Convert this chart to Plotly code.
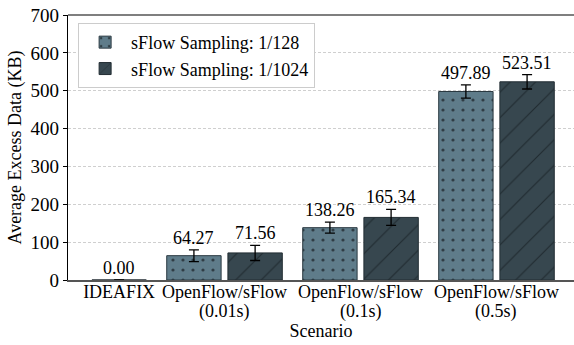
import plotly.graph_objects as go

# ---- data ----
scenarios = ["IDEAFIX", "OpenFlow/sFlow<br>(0.01s)", "OpenFlow/sFlow<br>(0.1s)", "OpenFlow/sFlow<br>(0.5s)"]
series_names = ["sFlow Sampling: 1/128", "sFlow Sampling: 1/1024"]
vals_128 = [None, 64.27, 138.26, 497.89]
err_128 = [None, 15.5, 14.5, 17.5]
vals_1024 = [0.00, 71.56, 165.34, 523.51]
err_1024 = [0.0, 20.0, 21.0, 19.0]
y_ticks = [0, 100, 200, 300, 400, 500, 600, 700]

# ---- layout helpers ----
BAR_W = 0.4
OFF = 0.225
FONT = "Times New Roman"
FS = 18
C128 = "#5F7C8A"
C1024 = "#37474F"

idx = list(range(len(scenarios)))
x128 = [i - OFF for i, v in zip(idx, vals_128) if v is not None]
y128 = [v for v in vals_128 if v is not None]
e128 = [e for v, e in zip(vals_128, err_128) if v is not None]
x1024 = [i + OFF for i in idx]
tick_pos = [i if v is not None else i + OFF for i, v in zip(idx, vals_128)]
line1 = [s.split("<br>")[0] for s in scenarios]
line2 = [s.split("<br>")[1] if "<br>" in s else "" for s in scenarios]

fig = go.Figure()
fig.add_trace(go.Bar(
    x=x128, y=y128, width=BAR_W, name=series_names[0],
    marker=dict(color=C128, line=dict(color="#2b3a42", width=1),
                pattern=dict(shape=".", size=10, solidity=0.08, fgcolor="#2f3d45", fgopacity=1)),
    error_y=dict(type="data", array=e128, color="black", thickness=1.3, width=5),
))
fig.add_trace(go.Bar(
    x=x1024, y=vals_1024, width=BAR_W, name=series_names[1],
    marker=dict(color=C1024, line=dict(color="#222d33", width=1),
                pattern=dict(shape="/", size=18, solidity=0.06, fgcolor="#1f2a30", fgopacity=1)),
    error_y=dict(type="data", array=err_1024, color="black", thickness=1.3, width=5),
))

annotations = []
for xs, ys, es in [(x128, y128, e128), (x1024, vals_1024, err_1024)]:
    for x, y, e in zip(xs, ys, es):
        annotations.append(dict(x=x, y=y + e, text=f"{y:.2f}", showarrow=False,
                                yanchor="bottom", xanchor="center", yshift=0,
                                font=dict(family=FONT, size=FS, color="black")))
for x, t in zip(tick_pos, line2):
    if t:
        annotations.append(dict(x=x, xref="x", y=0, yref="paper", text=t, showarrow=False,
                                yanchor="top", xanchor="center", yshift=-19,
                                font=dict(family=FONT, size=FS, color="black")))

fig.update_layout(
    width=574, height=345,
    margin=dict(l=68, r=0, t=15, b=65),
    paper_bgcolor="white", plot_bgcolor="white",
    barmode="overlay",
    font=dict(family=FONT, size=FS, color="black"),
    showlegend=True,
    legend=dict(x=0.02, y=0.97, xanchor="left", yanchor="top",
                bgcolor="white", bordercolor="#cccccc", borderwidth=1,
                font=dict(family=FONT, size=FS), itemwidth=42,
                traceorder="normal"),
    annotations=annotations,
    shapes=[dict(type="line", xref="paper", yref="paper", x0=0, x1=1, y0=1, y1=1,
                 line=dict(color="black", width=1.2))],
)
fig.update_xaxes(
    range=[-0.151, 3.57], tickmode="array", tickvals=tick_pos, ticktext=line1,
    showline=True, linecolor="#555555", linewidth=1.5, ticks="", showgrid=False,
    zeroline=False, automargin=False, ticklabelstandoff=-5,
    title=dict(text="Scenario", font=dict(family=FONT, size=FS), standoff=23),
    tickfont=dict(family=FONT, size=FS),
)
fig.update_yaxes(
    range=[0, 700], tickmode="array", tickvals=y_ticks,
    showline=True, linecolor="black", linewidth=1.2, ticks="outside", ticklen=4,
    tickcolor="black", showgrid=True, gridcolor="#cfcfcf", gridwidth=0.8, griddash="3px,2px",
    zeroline=False, automargin=False,
    title=dict(text="Average Excess Data (KB)", font=dict(family=FONT, size=FS), standoff=4),
    tickfont=dict(family=FONT, size=19),
)

fig.write_html("out.html", config={"displayModeBar": False},
               post_script="document.body.style.margin='0';")
